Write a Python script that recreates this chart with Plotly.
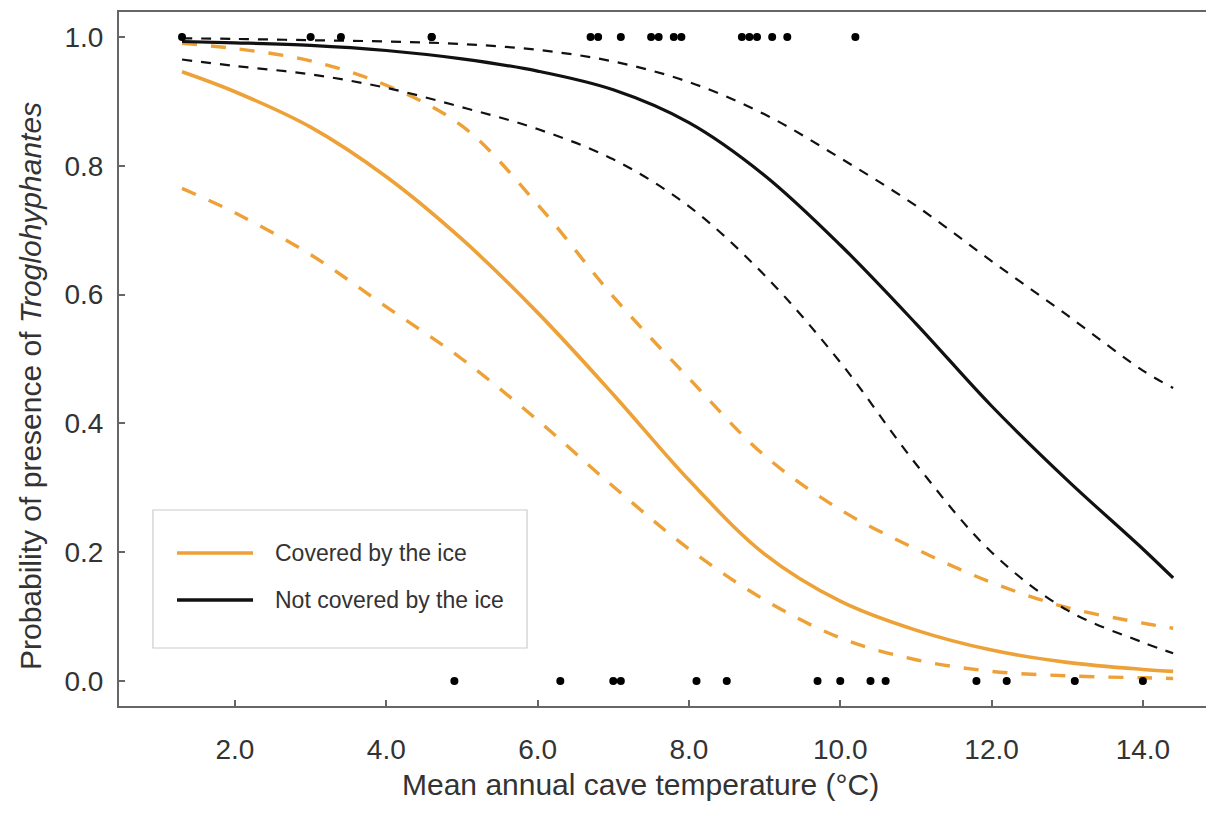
import plotly.graph_objects as go

# ---- data ----
temp = [1.3, 2.0, 3.0, 4.0, 5.0, 6.0, 7.0, 8.0, 9.0, 10.0, 11.0, 12.0, 13.0, 14.0, 14.4]

covered_fit   = [0.946, 0.915, 0.860, 0.783, 0.686, 0.572, 0.445, 0.312, 0.197, 0.124, 0.079, 0.048, 0.029, 0.018, 0.015]
covered_upper = [0.990, 0.982, 0.963, 0.925, 0.862, 0.740, 0.597, 0.470, 0.350, 0.266, 0.205, 0.153, 0.114, 0.090, 0.082]
covered_lower = [0.765, 0.727, 0.662, 0.581, 0.500, 0.405, 0.302, 0.205, 0.126, 0.067, 0.033, 0.015, 0.008, 0.005, 0.004]

notcov_fit    = [0.993, 0.991, 0.987, 0.979, 0.966, 0.947, 0.918, 0.867, 0.785, 0.677, 0.555, 0.427, 0.312, 0.205, 0.160]
notcov_upper  = [0.998, 0.997, 0.995, 0.993, 0.989, 0.980, 0.962, 0.930, 0.880, 0.812, 0.738, 0.652, 0.568, 0.482, 0.455]
notcov_lower  = [0.965, 0.955, 0.942, 0.921, 0.891, 0.857, 0.810, 0.737, 0.630, 0.495, 0.337, 0.200, 0.110, 0.060, 0.043]

present_temp = [1.3, 3.0, 3.4, 4.6, 4.6, 6.7, 6.8, 7.1, 7.5, 7.6, 7.8, 7.9, 8.7, 8.8, 8.9, 9.1, 9.3, 10.2]
present_val  = [1] * len(present_temp)
absent_temp  = [4.9, 6.3, 7.0, 7.1, 8.1, 8.5, 9.7, 10.0, 10.4, 10.6, 11.8, 12.2, 13.1, 14.0]
absent_val   = [0] * len(absent_temp)

x_ticks = [2, 4, 6, 8, 10, 12, 14]
y_ticks = [0.0, 0.2, 0.4, 0.6, 0.8, 1.0]

legend_labels = ["Covered by the ice", "Not covered by the ice"]
x_title = "Mean annual cave temperature (°C)"
y_title = "Probability of presence of <i>Troglohyphantes</i>"

# ---- style ----
ORANGE = "#EDA136"
BLACK = "#111111"
FONT = "Arial, Liberation Sans, sans-serif"
TXT = "#333333"
AXIS = "#666666"

fig = go.Figure()

def add_curve(y, color, width, dash, name):
    fig.add_trace(go.Scatter(
        x=temp, y=y, mode="lines", name=name, showlegend=False,
        line=dict(color=color, width=width, dash=dash, shape="spline", smoothing=1.0),
        hoverinfo="skip"))

add_curve(covered_upper, ORANGE, 3.4, "15px,14px", "Covered upper CI")
add_curve(covered_lower, ORANGE, 3.4, "15px,14px", "Covered lower CI")
add_curve(covered_fit, ORANGE, 3.6, "solid", legend_labels[0])
add_curve(notcov_upper, BLACK, 2.2, "10px,9px", "Not covered upper CI")
add_curve(notcov_lower, BLACK, 2.2, "10px,9px", "Not covered lower CI")
add_curve(notcov_fit, BLACK, 3.2, "solid", legend_labels[1])

fig.add_trace(go.Scatter(x=present_temp, y=present_val, mode="markers", showlegend=False,
                         marker=dict(color="black", size=8), name="presence"))
fig.add_trace(go.Scatter(x=absent_temp, y=absent_val, mode="markers", showlegend=False,
                         marker=dict(color="black", size=8), name="absence"))

# ---- manual legend (box, samples, labels) in paper coordinates ----
fig.add_shape(type="rect", xref="paper", yref="paper", x0=0.031, x1=0.3726, y0=0.0836, y1=0.2824,
              line=dict(color="#CCCCCC", width=1.2), fillcolor="white", layer="above")
fig.add_shape(type="line", xref="paper", yref="paper", x0=0.053, x1=0.1224, y0=0.2205, y1=0.2205,
              line=dict(color=ORANGE, width=3.6), layer="above")
fig.add_shape(type="line", xref="paper", yref="paper", x0=0.053, x1=0.1224, y0=0.1527, y1=0.1527,
              line=dict(color=BLACK, width=3.6), layer="above")
for yy, lab in zip([0.2205, 0.1527], legend_labels):
    fig.add_annotation(xref="paper", yref="paper", x=0.1406, y=yy, text=lab, showarrow=False,
                       xanchor="left", yanchor="middle",
                       font=dict(family=FONT, size=23, color=TXT))

# axis titles (placed as in the reference, slightly off-centre)
fig.add_annotation(xref="paper", yref="paper", x=0.4767, y=-0.1138, text=x_title, showarrow=False,
                   xanchor="center", yanchor="middle", font=dict(family=FONT, size=30, color=TXT))
fig.add_annotation(xref="paper", yref="paper", x=-0.0813, y=0.461, text=y_title, showarrow=False,
                   textangle=-90, xanchor="center", yanchor="middle",
                   font=dict(family=FONT, size=30, color=TXT))

# page body has an 8px margin: the figure is sized/placed to compensate
fig.update_layout(
    width=1206, height=821,
    margin=dict(l=111, r=0, t=4, b=123),
    paper_bgcolor="white", plot_bgcolor="white",
    font=dict(family=FONT, color=TXT),
    showlegend=False,
)

fig.update_xaxes(
    range=[0.467, 14.94], tickvals=x_ticks, tickformat=".1f",
    showgrid=False, zeroline=False,
    showline=True, linecolor=AXIS, linewidth=2, mirror=True,
    ticks="inside", ticklen=6, tickcolor=AXIS, tickwidth=1.5,
    tickfont=dict(family=FONT, size=28, color=TXT), ticklabelstandoff=17,
    automargin=False,
)
fig.update_yaxes(
    range=[-0.0388, 1.0388], tickvals=y_ticks, tickformat=".1f",
    showgrid=False, zeroline=False,
    showline=True, linecolor=AXIS, linewidth=2,
    ticks="inside", ticklen=6, tickcolor=AXIS, tickwidth=1.5,
    tickfont=dict(family=FONT, size=28, color=TXT), ticklabelstandoff=8,
    automargin=False,
)

fig.write_html("out.html")
